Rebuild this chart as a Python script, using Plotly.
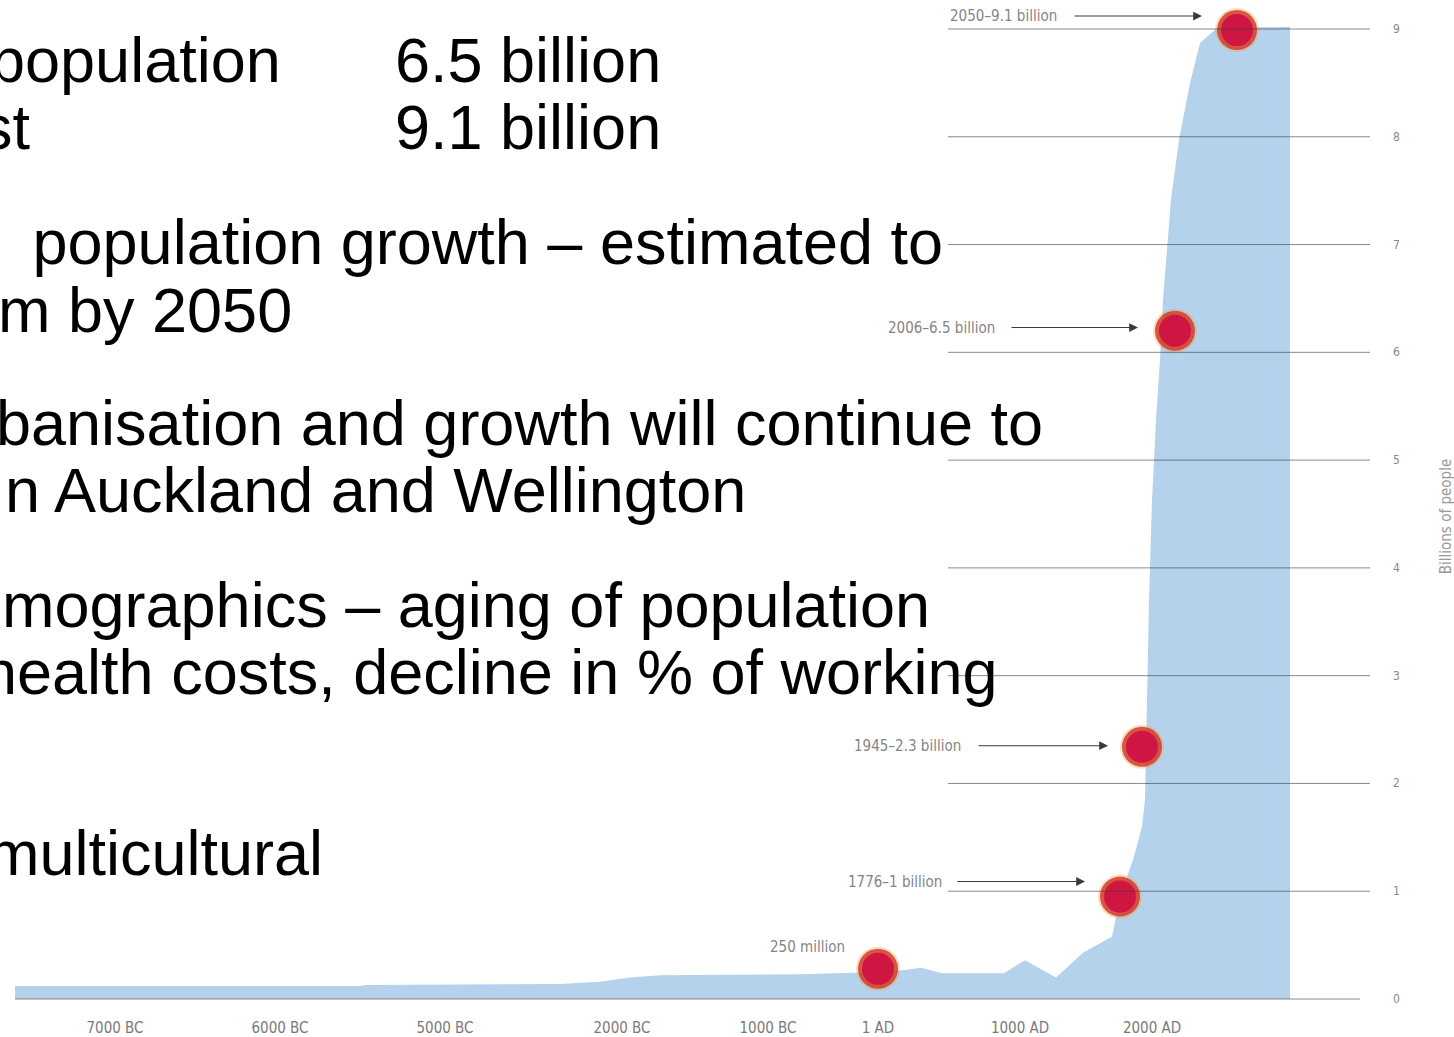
import plotly.graph_objects as go

W, H = 1454, 1037
PLOT_BOTTOM = 1017  # pixel row where plot area ends (tick labels below)

# ---------------- data ----------------
# timeline axis: tick positions (timeline units) and labels
tick_pos = [115, 280, 445, 622, 768, 878, 1020, 1152]
tick_text = ["7000 BC", "6000 BC", "5000 BC", "2000 BC", "1000 BC", "1 AD", "1000 AD", "2000 AD"]

# population profile (timeline position, billions)
area_x = [15, 360, 366, 560, 600, 630, 660, 800, 880, 905, 921, 942, 1004, 1025, 1056,
          1083, 1112, 1117, 1121, 1133, 1142, 1145, 1146, 1147, 1149, 1152, 1156, 1160,
          1163, 1167, 1171, 1179, 1190, 1200, 1217, 1290, 1290]
area_pop = [0.12, 0.12, 0.13, 0.14, 0.16, 0.20, 0.22, 0.23, 0.25, 0.27, 0.29, 0.24, 0.24,
            0.36, 0.20, 0.43, 0.58, 0.80, 0.98, 1.29, 1.60, 1.85, 2.30, 2.77, 3.70, 4.63,
            5.37, 5.93, 6.49, 6.95, 7.42, 7.97, 8.50, 8.87, 9.01, 9.02, 0.0]

# milestones
ms_x = [878, 1120, 1142, 1175, 1237]
ms_pop = [0.28, 0.95, 2.34, 6.20, 8.99]
ms_label = ["250 million", "1776\u20131 billion", "1945\u20132.3 billion",
            "2006\u20136.5 billion", "2050\u20139.1 billion"]
ms_label_x = [768, 846, 852, 886, 948]
ms_label_pop = [0.48, 1.09, 2.35, 6.23, 9.12]
ms_arrow_tail = [None, 956, 977, 1010, 1073]
ms_arrow_head = [None, 1085, 1108, 1138, 1202]

y_ticks = list(range(0, 10))

# slide text: (text, anchor x pixel, anchor side, centre y pixel)
slide_text = [
    ("population", 283, "right", 60),
    ("6.5 billion", 393, "left", 60),
    ("st", 33, "right", 127),
    ("9.1 billion", 393, "left", 127),
    (" population growth \u2013 estimated to", 945, "right", 242),
    ("m by 2050", 294, "right", 310),
    ("banisation and growth will continue to", 1045, "right", 423),
    ("n Auckland and Wellington", 748, "right", 490),
    ("mographics \u2013 aging of population", 932, "right", 605),
    ("health costs, decline in % of working", 1000, "right", 672),
    ("multicultural", 325, "right", 853),
]

# ---------------- figure ----------------
# y scale: 0 at pixel 999, 9 at pixel 29
PX_PER_B = (999 - 29) / 9.0
y_top = 999 / PX_PER_B
y_bot = -(PLOT_BOTTOM - 999) / PX_PER_B

def paper_y(ypix):
    return 1 - ypix / PLOT_BOTTOM

fig = go.Figure()

fig.add_trace(go.Scatter(x=area_x, y=area_pop, mode="lines", fill="tozeroy",
                         fillcolor="#b4d2ec", line=dict(width=0, color="#b4d2ec"),
                         hoverinfo="skip", showlegend=False))

# milestone dots (glow + core)
fig.add_trace(go.Scatter(x=ms_x, y=ms_pop, mode="markers",
                         marker=dict(size=44, color="rgba(245,160,70,0.35)", line=dict(width=0)),
                         hoverinfo="skip", showlegend=False))
fig.add_trace(go.Scatter(x=ms_x, y=ms_pop, mode="markers",
                         marker=dict(size=40, color="rgba(210,60,45,0.85)", line=dict(width=0)),
                         hoverinfo="skip", showlegend=False))
fig.add_trace(go.Scatter(x=ms_x, y=ms_pop, mode="markers",
                         marker=dict(size=32, color="#cf1541", line=dict(width=0)),
                         hoverinfo="skip", showlegend=False))

shapes = []
for k in y_ticks:
    x0, x1 = (15, 1360) if k == 0 else (948, 1370)
    shapes.append(dict(type="line", xref="x", yref="y", x0=x0, x1=x1, y0=k, y1=k,
                       line=dict(color="rgba(60,60,60,0.6)", width=1), layer="above"))

annotations = []
small_font = dict(family="DejaVu Sans Condensed", size=15, color="#858585")
for lab, lx, lp, tail, head in zip(ms_label, ms_label_x, ms_label_pop, ms_arrow_tail, ms_arrow_head):
    annotations.append(dict(x=lx, y=lp, xref="x", yref="y", text=lab, showarrow=False,
                            xanchor="left", yanchor="middle", font=small_font))
    if tail is not None:
        annotations.append(dict(x=head, y=lp, xref="x", yref="y", ax=tail, ay=lp,
                                axref="x", ayref="y", text="", showarrow=True,
                                arrowhead=2, arrowsize=1.6, arrowwidth=1.1,
                                arrowcolor="#3a3a3a", standoff=0, startstandoff=0))

for k in y_ticks:
    annotations.append(dict(x=1396, y=k, xref="x", yref="y", text=str(k), showarrow=False,
                            xanchor="center", yanchor="middle",
                            font=dict(family="DejaVu Sans Condensed", size=12, color="#8a8a8a")))

annotations.append(dict(x=1446, y=4.47, xref="x", yref="y", text="Billions of people",
                        textangle=-90, showarrow=False, xanchor="center", yanchor="middle",
                        font=dict(family="DejaVu Sans Condensed", size=15, color="#999999")))

for txt, xp, side, yp in slide_text:
    annotations.append(dict(x=xp / W, y=paper_y(yp), xref="paper", yref="paper", text=txt,
                            showarrow=False, xanchor=side, yanchor="middle",
                            font=dict(family="Liberation Sans", size=63, color="#000000")))

fig.update_layout(
    width=W, height=H,
    margin=dict(l=0, r=0, t=0, b=H - PLOT_BOTTOM, pad=0),
    paper_bgcolor="white", plot_bgcolor="white",
    showlegend=False,
    xaxis=dict(range=[0, W], showgrid=False, zeroline=False, showline=False,
               tickmode="array", tickvals=tick_pos, ticktext=tick_text, ticks="",
               tickfont=dict(family="DejaVu Sans Condensed", size=15, color="#7a7a7a"),
               fixedrange=True),
    yaxis=dict(range=[y_bot, y_top], showgrid=False, zeroline=False, showline=False,
               showticklabels=False, fixedrange=True),
    shapes=shapes,
    annotations=annotations,
)

fig.write_html("out.html", config={"displayModeBar": False},
               post_script="document.body.style.margin='0px';")
